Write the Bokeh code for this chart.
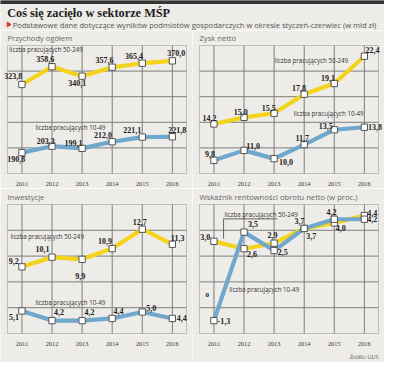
from bokeh.plotting import figure
from bokeh.layouts import column, row
from bokeh.models import Range1d, FixedTicker, ColumnDataSource, LabelSet, Title, BoxAnnotation
from bokeh.core.properties import value
from bokeh.embed import file_html
from bokeh.resources import INLINE
import numpy as np

# ---------------- data ----------------
years = [2011, 2012, 2013, 2014, 2015, 2016]
rev_50_249 = [323.8, 358.6, 340.1, 357.6, 365.4, 370.0]
rev_10_49 = [190.8, 203.3, 199.1, 212.0, 221.1, 221.8]
profit_50_249 = [14.2, 15.0, 15.5, 17.8, 19.1, 22.4]
profit_10_49 = [9.8, 11.0, 10.0, 11.7, 13.5, 13.8]
inv_50_249 = [9.2, 10.1, 9.9, 10.9, 12.7, 11.3]
inv_10_49 = [5.1, 4.2, 4.2, 4.4, 5.0, 4.4]
margin_50_249 = [3.0, 2.6, 2.9, 3.7, 4.0, 4.4]
margin_10_49 = [-1.3, 3.5, 2.5, 3.7, 4.2, 4.2]

TITLE = "Coś się zacięło w sektorze MŚP"
SUBTITLE = "Podstawowe dane dotyczące wyników podmiotów gospodarczych w okresie styczeń-czerwiec (w mld zł)"
PANEL_TITLES = ["Przychody ogółem", "Zysk netto", "Inwestycje",
                "Wskaźnik rentowności obrotu netto (w proc.)"]
SERIES_50 = "liczba pracujących 50-249"
SERIES_10 = "liczba pracujących 10-49"
SOURCE = "Źródło: GUS"

# ---------------- style ----------------
BG = "#eeece8"
YEL = "#f3d31b"
BLUE = "#6fa7cd"
FRAME = "#555555"
GRID = "#7d7d7d"
S = 0.96
NARROW = "Liberation Sans Narrow"
X_LO, X_HI = 2010.52, 2016.47      # visible chart box
FIG_W = 192
BOX_L, BOX_R = 7, 6                # box margins inside each figure (px)
PAD = 2                            # extra px of frame above/below box
PPU_X = (FIG_W - BOX_L - BOX_R) / (X_HI - X_LO)
XR_LO = X_LO - BOX_L / PPU_X
XR_HI = X_HI + BOX_R / PPU_X


def fmt(v):
    return f"{v:.1f}".replace(".", ",")


def make_panel(title, y_lo, y_hi, fig_h, b_top, b_bottom, s50, s10, off50, off10,
               lab50_pos, lab10_pos, extra=None):
    box_h = fig_h - b_top - b_bottom
    ppu_y = box_h / (y_hi - y_lo)
    p = figure(width=FIG_W, height=fig_h, x_range=Range1d(XR_LO, XR_HI),
               y_range=Range1d(y_lo - PAD / ppu_y, y_hi + PAD / ppu_y),
               output_backend="svg", toolbar_location=None,
               min_border_left=0, min_border_right=0,
               min_border_top=b_top - PAD, min_border_bottom=b_bottom - PAD,
               background_fill_color=BG, border_fill_color=BG)
    p.title.text = title
    p.title.text_font = "Open Sans"
    p.title.text_font_style = "normal"
    p.title.text_font_size = "7.6px"
    p.title.text_color = "#666666"
    p.title.align = "left"
    p.title.offset = BOX_L
    p.title.standoff = 1
    p.yaxis.visible = False
    p.xaxis.ticker = FixedTicker(ticks=years)
    p.xaxis.axis_line_color = None
    p.xaxis.major_tick_line_color = None
    p.xaxis.minor_tick_line_color = None
    p.xaxis.major_label_text_font = NARROW
    p.xaxis.major_label_text_font_size = "6.3px"
    p.xaxis.major_label_text_color = "#333333"
    p.xaxis.major_label_standoff = 0
    p.grid.visible = False
    p.outline_line_color = None

    # grid lines limited to the chart box
    hticks = list(np.linspace(y_lo, y_hi, 6)[1:-1])
    p.segment(x0=[X_LO] * 4, x1=[X_HI] * 4, y0=hticks, y1=hticks,
              line_color=GRID, line_width=1)
    p.segment(x0=years, x1=years, y0=[y_lo] * 6, y1=[y_hi] * 6,
              line_color=GRID, line_width=1)
    p.add_layout(BoxAnnotation(left=X_LO, right=X_HI, bottom=y_lo, top=y_hi,
                               fill_alpha=0, line_color=FRAME, line_width=1,
                               level="underlay"))

    if extra is not None:
        extra(p)

    p.line(years, s50, line_color=YEL, line_width=4.2)
    p.line(years, s10, line_color=BLUE, line_width=4.2)
    for s in (s50, s10):
        p.scatter(years, s, marker="square", size=6.3, fill_color="white",
                  line_color=FRAME, line_width=1)

    for s, off in ((s50, off50), (s10, off10)):
        src = ColumnDataSource(dict(x=years, y=s, t=[fmt(v) for v in s],
                                    dx=[o[0] * S for o in off],
                                    dy=[-o[1] * S for o in off]))
        p.add_layout(LabelSet(x="x", y="y", text="t", source=src,
                              x_offset="dx", y_offset="dy",
                              text_align="center", text_baseline="middle",
                              text_font=value(NARROW), text_font_style="bold",
                              text_font_size="8px", text_color="#222222"))

    p.text(x=[lab50_pos[0], lab10_pos[0]], y=[lab50_pos[1], lab10_pos[1]],
           text=[SERIES_50, SERIES_10], text_align="left", text_baseline="middle",
           text_font=value("Open Sans"), text_font_size="6.2px", text_color="#333333")
    return p


off_rev50 = [(-9, -9), (-7, -8), (-5, 7.5), (-8, -8), (-8.5, -8), (4, -8)]
off_rev10 = [(-6, 7), (-6.5, -5), (-9, -6), (-9.5, -7), (-10.5, -7), (5, -7)]
off_pro50 = [(-4.5, -6), (-3.5, -6), (-5.5, -5), (-5.5, -6), (-6.5, -6), (8.5, -7)]
off_pro10 = [(-4, -7), (9.5, -5), (12.5, 4), (-2, -7), (-9, -4), (11, 0)]
off_inv50 = [(-8.5, -6), (-10, -8), (-2, 17), (-7.5, -8), (-2.7, -7.7), (5.5, -7)]
off_inv10 = [(-8.3, 6.7), (7.3, -9), (7.7, -9), (6.7, -7.7), (9.3, -4.3), (9.7, 0)]
off_mar50 = [(-9, -5), (8.3, 6), (-1.7, -8.3), (7.3, 7.7), (6.7, 5), (8.3, -2.3)]
off_mar10 = [(10.3, 0), (9.3, -8.3), (9, 1), (-5, -7.3), (-3, -8), (8.3, 0)]

p1 = make_panel(PANEL_TITLES[0], 150, 400, 158, 15, 15, rev_50_249, rev_10_49,
                off_rev50, off_rev10, (2010.58, 392.5), (2011.45, 240.2))
p2 = make_panel(PANEL_TITLES[1], 8.2, 23.7, 158, 15, 15, profit_50_249, profit_10_49,
                off_pro50, off_pro10, (2013.02, 21.94), (2013.65, 15.48))
p3 = make_panel(PANEL_TITLES[2], 3, 15, 174, 16, 28, inv_50_249, inv_10_49,
                off_inv50, off_inv10, (2010.62, 11.98), (2011.45, 5.93))


def margin_extra(p):
    p.segment(x0=[2011.32, 2011.32], y0=[4.22, 4.22], x1=[2013.11, 2011.32],
              y1=[4.22, 3.15], line_color="#444444", line_width=0.8)
    p.text(x=[2010.78], y=[0.1], text=["0"], text_align="center", text_baseline="middle",
           text_font=value(NARROW), text_font_style="bold", text_font_size="7px",
           text_color="#222222")


p4 = make_panel(PANEL_TITLES[3], -2, 5, 174, 16, 28, margin_50_249, margin_10_49,
                off_mar50, off_mar10, (2011.35, 4.48), (2011.51, 0.39), extra=margin_extra)
p4.add_layout(Title(text=SOURCE, align="right", text_font=NARROW, text_font_style="normal",
                    text_font_size="5.5px", text_color="#555555", standoff=6,
                    offset=BOX_R), "below")

# ---------------- header ----------------
h = figure(width=384, height=30, x_range=Range1d(0, 384), y_range=Range1d(30, 0),
           output_backend="svg", toolbar_location=None, min_border=0,
           background_fill_color=BG, border_fill_color=BG)
h.axis.visible = False
h.grid.visible = False
h.outline_line_color = None
h.quad(left=[0], right=[384], top=[0], bottom=[3], color="#353535")
h.text(x=[6.7], y=[12.5], text=[TITLE], text_align="left", text_baseline="middle",
       text_font=value("Liberation Serif"), text_font_style="bold",
       text_font_size="12.3px", text_color="#222222")
h.patch(x=[6.7, 10.6, 6.7], y=[21.6, 24, 26.4], color="#d33a2c")
h.text(x=[12.3], y=[24], text=[SUBTITLE], text_align="left", text_baseline="middle",
       text_font=value("Open Sans"), text_font_size="7.6px", text_color="#555555")

layout = column(h, row(p1, p2), row(p3, p4))
open("out.html", "w").write(file_html(layout, INLINE))
